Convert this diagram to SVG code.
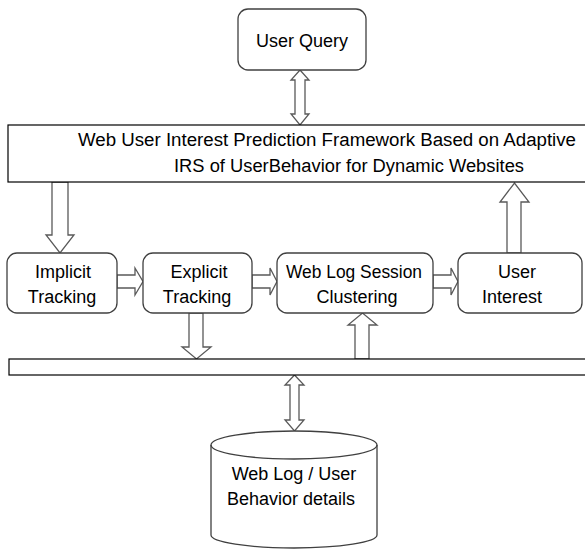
<svg xmlns="http://www.w3.org/2000/svg" width="585" height="549" viewBox="0 0 585 549">
<style>
.box{fill:#fff;stroke:#404040;stroke-width:1.3}
.bar{fill:#fff;stroke:#000;stroke-width:1.2}
.arr{fill:#fff;stroke:#595959;stroke-width:1.3;stroke-linejoin:miter}
text{font-family:"Liberation Sans",Arial,sans-serif;font-size:18px;fill:#000;text-anchor:middle}
</style>
<rect width="585" height="549" fill="#fff"/>
<g id="connectors">
<polygon class="arr" points="300,70 309,80 305,80 305,114 309,114 300,125 291,114 295,114 295,80 291,80"/>
<polygon class="arr" points="52,182 68,182 68,235 74,235 60,253 46,235 52,235"/>
<polygon class="arr" points="117,275 135,275 135,268 143,281.5 135,295 135,288 117,288"/>
<polygon class="arr" points="252,275 270,275 270,268 277,281.5 270,295 270,288 252,288"/>
<polygon class="arr" points="433,275 451,275 451,268 458,281.5 451,295 451,288 433,288"/>
<polygon class="arr" points="507,253 507,202 500,202 514.5,183 529,202 521,202 521,253"/>
<polygon class="arr" points="189,313 203,313 203,347 211,347 196.5,359 182,347 189,347"/>
<polygon class="arr" points="355,359 355,325 348,325 362.5,313 377,325 369,325 369,359"/>
<polygon class="arr" points="294.5,375 304,385 299,385 299,420 304,420 294.5,431 285,420 290,420 290,385 285,385"/>
</g>
<g id="user-query">
<rect class="box" x="238" y="9" width="128" height="61" rx="10"/>
<text x="302" y="47">User Query</text>
</g>
<g id="framework">
<rect class="bar" x="8" y="125" width="590" height="57"/>
<text x="327" y="146" textLength="498" lengthAdjust="spacingAndGlyphs">Web User Interest Prediction Framework Based on Adaptive</text>
<text x="349" y="172" textLength="350" lengthAdjust="spacingAndGlyphs">IRS of UserBehavior for Dynamic Websites</text>
</g>
<g id="implicit">
<rect class="box" x="7" y="253" width="110" height="60" rx="10"/>
<text x="63" y="278">Implicit</text>
<text x="62" y="303">Tracking</text>
</g>
<g id="explicit">
<rect class="box" x="143" y="253" width="109" height="60" rx="10"/>
<text x="199" y="278">Explicit</text>
<text x="197" y="303">Tracking</text>
</g>
<g id="weblog-session">
<rect class="box" x="277" y="253" width="156" height="60" rx="10"/>
<text x="354" y="278" textLength="136" lengthAdjust="spacingAndGlyphs">Web Log Session</text>
<text x="357" y="303">Clustering</text>
</g>
<g id="user-interest">
<rect class="box" x="458" y="253" width="124" height="60" rx="10"/>
<text x="517" y="278">User</text>
<text x="512" y="303">Interest</text>
</g>
<g id="bar">
<rect class="bar" x="9" y="359" width="590" height="16"/>
</g>
<g id="database">
<path class="box" d="M211,445 A83,14 0 0 1 377,445 L377,535 A83,13 0 0 1 211,535 Z"/>
<path fill="none" stroke="#404040" stroke-width="1.3" d="M211,445 A83,14 0 0 0 377,445"/>
<text x="294" y="480">Web Log / User</text>
<text x="291" y="505">Behavior details</text>
</g>
</svg>
